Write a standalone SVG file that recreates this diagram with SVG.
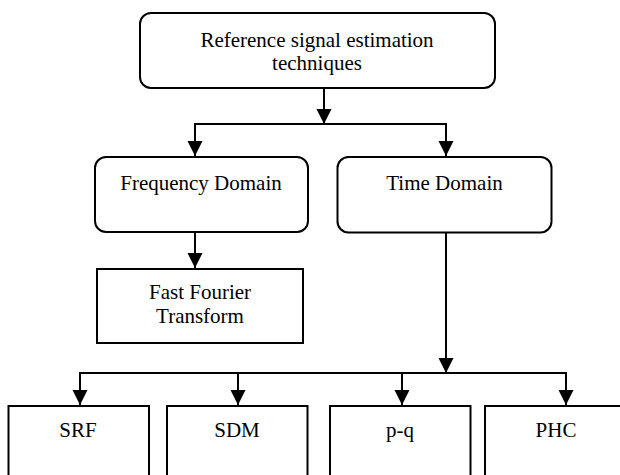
<svg xmlns="http://www.w3.org/2000/svg" width="620" height="475" viewBox="0 0 620 475">
<style>
.box{fill:#fff;stroke:#000;stroke-width:2}
.lbl{font-family:"Liberation Serif","Times New Roman",serif;font-size:21px;fill:#000;text-anchor:middle}
.con{fill:none;stroke:#000;stroke-width:2}
</style>
<defs>
<marker id="ah" markerUnits="userSpaceOnUse" markerWidth="16" markerHeight="16" viewBox="0 0 16 16" refX="15" refY="8" orient="auto">
<path d="M0,0.5 L15,8 L0,15.5 Z" fill="#000"/>
</marker>
</defs>
<rect width="620" height="475" fill="#fff"/>
<g id="connectors">
<path class="con" d="M324,88 V124" marker-end="url(#ah)"/>
<path class="con" d="M195,124 H446"/>
<path class="con" d="M195,123 V156" marker-end="url(#ah)"/>
<path class="con" d="M446,123 V156" marker-end="url(#ah)"/>
<path class="con" d="M195,232 V268" marker-end="url(#ah)"/>
<path class="con" d="M446,233 V373" marker-end="url(#ah)"/>
<path class="con" d="M80,373 H566"/>
<path class="con" d="M80,372 V405" marker-end="url(#ah)"/>
<path class="con" d="M238,372 V405" marker-end="url(#ah)"/>
<path class="con" d="M402,372 V405" marker-end="url(#ah)"/>
<path class="con" d="M566,372 V405" marker-end="url(#ah)"/>
</g>
<g id="root">
<rect class="box" x="140" y="13" width="355" height="75" rx="11"/>
<text class="lbl" x="317" y="47">Reference signal estimation</text>
<text class="lbl" x="317" y="70">techniques</text>
</g>
<g id="freq">
<rect class="box" x="95" y="157" width="213" height="75" rx="11"/>
<text class="lbl" x="201" y="190">Frequency Domain</text>
</g>
<g id="time">
<rect class="box" x="337.5" y="157" width="214" height="75.5" rx="11"/>
<text class="lbl" x="444.5" y="190">Time Domain</text>
</g>
<g id="fft">
<rect class="box" x="97" y="269" width="206" height="74"/>
<text class="lbl" x="200" y="299">Fast Fourier</text>
<text class="lbl" x="200" y="323">Transform</text>
</g>
<g id="srf">
<rect class="box" x="8.5" y="406" width="140.5" height="80"/>
<text class="lbl" x="78" y="437">SRF</text>
</g>
<g id="sdm">
<rect class="box" x="167" y="406" width="140.5" height="80"/>
<text class="lbl" x="237" y="437">SDM</text>
</g>
<g id="pq">
<rect class="box" x="330" y="406" width="140.5" height="80"/>
<text class="lbl" x="400" y="437">p-q</text>
</g>
<g id="phc">
<rect class="box" x="485" y="406" width="145" height="80"/>
<text class="lbl" x="556" y="437">PHC</text>
</g>
</svg>
